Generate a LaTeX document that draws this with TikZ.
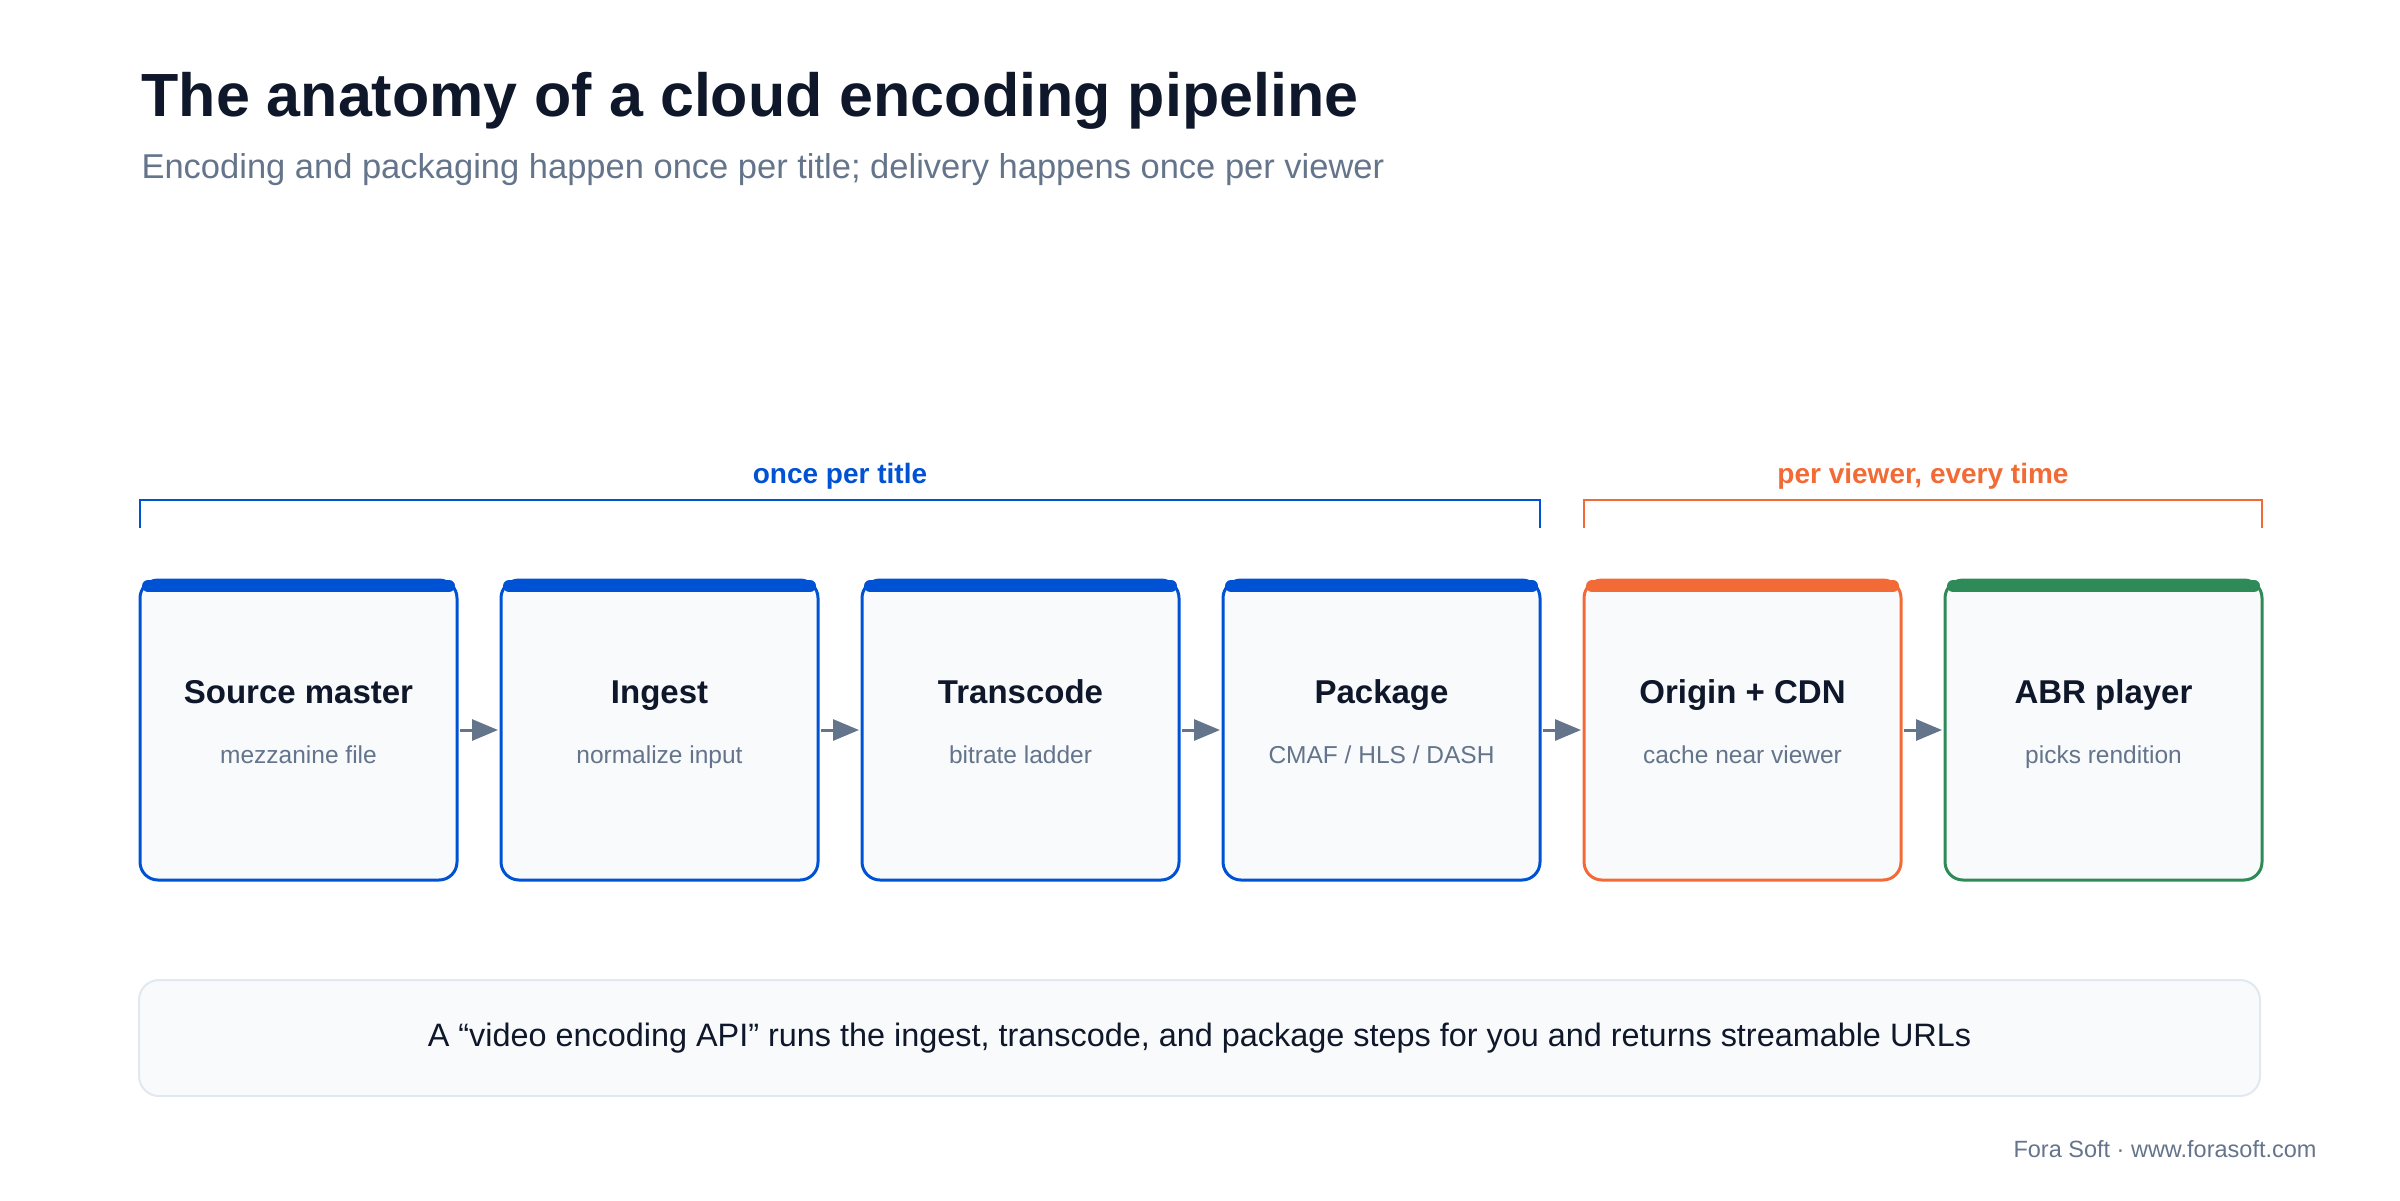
\documentclass[tikz,border=0pt]{standalone}
\usepackage{fontspec}
\setmainfont{Liberation Sans}
\usepackage{tikz}
\usetikzlibrary{positioning, arrows.meta}

\definecolor{ink}{HTML}{0F172A}
\definecolor{slate}{HTML}{64748B}
\definecolor{encblue}{HTML}{0052D4}
\definecolor{cdnorange}{HTML}{F26A35}
\definecolor{playgreen}{HTML}{2E8B57}
\definecolor{panel}{HTML}{F8FAFC}
\definecolor{hairline}{HTML}{E2E8F0}

\begin{document}
\begin{tikzpicture}[x = 1pt, y = -1pt,
    stage/.style = {draw = #1, line width = 3pt, fill = panel, rounded corners = 18pt,
                    minimum width = 317pt, minimum height = 300pt, inner sep = 0pt, outer sep = 0pt},
    bar/.style = {draw = #1, line width = 12pt, line cap = round},
    head/.style = {anchor = base, text = ink, font = \fontsize{33}{40}\selectfont\bfseries},
    note/.style = {anchor = base, text = slate, font = \fontsize{24.5}{30}\selectfont},
    flow/.style = {draw = slate, line width = 3pt, -{Triangle[length = 26pt, width = 21pt]},
                   shorten < = 3pt, shorten > = 3pt},
    bracket/.style = {draw = #1, line width = 2.5pt},
    tag/.style = {anchor = base, font = \fontsize{28}{34}\selectfont\bfseries}]
    \useasboundingbox (0,0) rectangle (2400,1200);

    % heading
    \node[anchor = base west, text = ink, font = \fontsize{61}{72}\selectfont\bfseries] (title) at (138,116)
        {The anatomy of a cloud encoding pipeline};
    \node[anchor = base west, text = slate, font = \fontsize{34.5}{42}\selectfont] (subtitle) at (138,178)
        {Encoding and packaging happen once per title; delivery happens once per viewer};

    % the six stages
    \node[stage = encblue] (src) at (298.5,730) {};
    \node[stage = encblue, right = 44pt of src] (ing) {};
    \node[stage = encblue, right = 44pt of ing] (trc) {};
    \node[stage = encblue, right = 44pt of trc] (pkg) {};
    \node[stage = cdnorange, right = 44pt of pkg] (cdn) {};
    \node[stage = playgreen, right = 44pt of cdn] (abr) {};

    \foreach \n/\c in {src/encblue, ing/encblue, trc/encblue, pkg/encblue, cdn/cdnorange, abr/playgreen}
        \draw[bar = \c] ([xshift = 8pt, yshift = -6pt]\n.north west) -- ([xshift = -8pt, yshift = -6pt]\n.north east);

    \foreach \n/\t/\s in {src/Source master/mezzanine file, ing/Ingest/normalize input,
                          trc/Transcode/bitrate ladder, pkg/Package/{CMAF / HLS / DASH},
                          cdn/Origin + CDN/cache near viewer, abr/ABR player/picks rendition} {
        \node[head] (\n-head) at ([yshift = 27pt]\n.center) {\t};
        \node[note] (\n-note) at ([yshift = -33pt]\n.center) {\s};
    }

    \draw[flow] (src) -- (ing);
    \draw[flow] (ing) -- (trc);
    \draw[flow] (trc) -- (pkg);
    \draw[flow] (pkg) -- (cdn);
    \draw[flow] (cdn) -- (abr);

    % brackets over the two groups
    \draw[bracket = encblue] ([yshift = 52pt]src.north west) -- ([yshift = 80pt]src.north west)
        -- ([yshift = 80pt]pkg.north east) -- ([yshift = 52pt]pkg.north east);
    \draw[bracket = cdnorange] ([yshift = 52pt]cdn.north west) -- ([yshift = 80pt]cdn.north west)
        -- ([yshift = 80pt]abr.north east) -- ([yshift = 52pt]abr.north east);
    \node[tag, text = encblue] (once) at (840,483) {once per title};
    \node[tag, text = cdnorange] (every) at (1923,483) {per viewer, every time};

    % footnote box
    \node[draw = hairline, fill = panel, line width = 2pt, rounded corners = 20pt,
          minimum width = 2121pt, minimum height = 116pt, text = ink,
          font = \fontsize{32.4}{38}\selectfont] (api) at (1199.5,1038)
        {A “video encoding API” runs the ingest, transcode, and package steps for you and returns streamable URLs};

    \node[anchor = base east, text = slate, font = \fontsize{23.5}{28}\selectfont] (credit) at (2320,1157)
        {Fora Soft · www.forasoft.com};
\end{tikzpicture}
\end{document}
